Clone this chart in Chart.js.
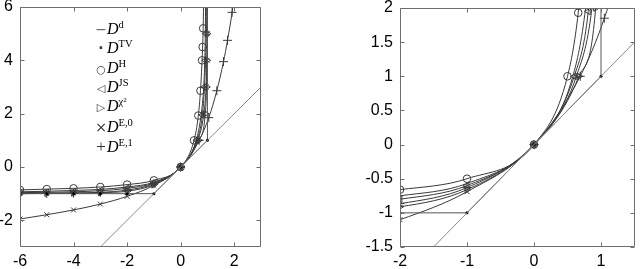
<!DOCTYPE html>
<html>
<head>
<meta charset="utf-8">
<script src="https://cdn.jsdelivr.net/npm/chart.js@4.4.1/dist/chart.umd.min.js"></script>
<style>
body { margin: 0; background: #fff; }
#wrap { position: relative; width: 640px; height: 269px; overflow: hidden; }
#wrap canvas { position: absolute; top: 0; }
#leftChart { left: 0; }
#rightChart { left: 320px; }
#legend { position: absolute; left: 95px; top: 20px; font-family: 'Liberation Serif', serif; font-size: 16px; line-height: 17.3px; color: #000; }
#legend .sym { display: inline-block; width: 12px; text-align: center; font-family: 'DejaVu Sans', sans-serif; color: #333; font-size: 11px; }
#legend div:nth-child(1) .sym { font-size: 14px; color: #666; }
#legend div:nth-child(2) .sym { font-size: 14px; font-weight: bold; }
#legend div:nth-child(6) .sym { font-size: 14px; }
#legend div:nth-child(7) .sym { font-size: 17px; font-family: 'Liberation Serif', serif; }
#legend i { font-style: italic; }
#legend .sup { position: relative; top: -6px; font-size: 10.5px; font-style: normal; }
#legend .sup .sup2 { position: relative; top: -3px; font-size: 7px; }
</style>
</head>
<body>
<div id="wrap">
  <canvas id="leftChart" width="320" height="269"></canvas>
  <canvas id="rightChart" width="320" height="269"></canvas>
  <div id="legend"></div>
</div>
<script>
// tick labels
var LEFT_X_TICKS = [-6, -4, -2, 0, 2];
var LEFT_Y_TICKS = [-2, 0, 2, 4, 6];
var RIGHT_X_TICKS = [-2, -1, 0, 1];
var RIGHT_Y_TICKS = [-1.5, -1, -0.5, 0, 0.5, 1, 1.5, 2];

// series
var d_x   = [-6, -5, -4, -3, -2, -1, 0, 0.58, 0.77, 0.86, 0.9, 0.92, 0.95];
var d_y   = [-0.93, -0.91, -0.88, -0.84, -0.75, -0.57, 0, 1, 2, 3, 4, 5, 8];
var tv_x  = [-6, -5, -4, -3, -2, -1, 0, 1, 1];
var tv_y  = [-1, -1, -1, -1, -1, -1, 0, 1, 10];
var h_x   = [-6, -5, -4, -3, -2, -1, 0, 0.5, 0.66, 0.74, 0.8, 0.82, 0.84, 0.89];
var h_y   = [-0.86, -0.83, -0.8, -0.75, -0.66, -0.5, 0, 1, 1.93, 2.86, 4, 4.5, 5.2, 8];
var js_x  = [-6, -5, -4, -3, -2, -1, 0, 0.6, 0.81, 0.89, 0.93, 0.95, 0.97];
var js_y  = [-0.96, -0.95, -0.93, -0.89, -0.8, -0.6, 0, 1, 1.95, 3, 4, 5, 8];
var chi_x = [-6, -5, -4, -3, -2, -1, 0, 0.67, 0.92, 0.965, 0.98, 0.99, 0.998];
var chi_y = [-0.99, -0.985, -0.975, -0.96, -0.91, -0.66, 0, 1, 2, 3, 4, 5, 8];
var e0_x  = [-6, -5, -4, -3, -2, -1, 0, 0.632, 0.865, 0.95, 0.982, 0.993, 0.9997];
var e0_y  = [-1.95, -1.79, -1.61, -1.39, -1.1, -0.69, 0, 1, 2, 3, 4, 5, 8];
var e1_x  = [-6, -5, -4, -3, -2, -1, 0, 0.69, 1.05, 1.35, 1.6, 1.75, 1.92, 2.2];
var e1_y  = [-1, -0.99, -0.98, -0.95, -0.865, -0.63, 0, 1, 1.85, 2.86, 3.95, 4.75, 5.8, 8];
var diag_x = [-6, 6];
var diag_y = [-6, 6];

var LEGEND_SYMS = ['\u2212', '\u00b7', '\u25cb', '\u25c1', '\u25b7', '\u00d7', '+'];
var LEGEND_SUPS = ['d', 'TV', 'H', 'JS', '\u03c7<span class="sup2">2</span>', 'E,0', 'E,1'];

function pts(xs, ys) {
    return xs.map(function(x, i) { return {x: x, y: ys[i]}; });
}

function curve(label, xs, ys, style, radius, rot, fill) {
    return {
        label: label,
        data: pts(xs, ys),
        showLine: true,
        borderColor: '#3a3a3a',
        borderWidth: 1,
        cubicInterpolationMode: 'monotone',
        pointStyle: style,
        pointRadius: radius,
        pointRotation: rot || 0,
        pointBorderColor: '#3a3a3a',
        pointBorderWidth: 1,
        pointBackgroundColor: fill || 'rgba(0,0,0,0)'
    };
}

function make_datasets() {
    return [
        {label: 'diag', data: pts(diag_x, diag_y), showLine: true, borderColor: '#8a8a8a',
         borderWidth: 1, pointRadius: 0, tension: 0},
        curve('D^d', d_x, d_y, 'circle', 0),
        {label: 'D^TV', data: pts(tv_x, tv_y), showLine: true, borderColor: '#555',
         borderWidth: 1, tension: 0, pointStyle: 'circle', pointRadius: 1.5,
         pointBorderWidth: 0, pointBackgroundColor: '#000'},
        curve('D^H', h_x, h_y, 'circle', 3.8),
        curve('D^JS', js_x, js_y, 'triangle', 3.8, -90),
        curve('D^chi2', chi_x, chi_y, 'triangle', 3.8, 90),
        curve('D^E,0', e0_x, e0_y, 'crossRot', 3.5),
        curve('D^E,1', e1_x, e1_y, 'cross', 4.5)
    ];
}

var framePlugin = {
    id: 'frame',
    afterDatasetsDraw: function(chart) {
        var ctx = chart.ctx, a = chart.chartArea;
        var xs = chart.scales.x, ys = chart.scales.y;
        var L = Math.round(a.left) + 0.5, R = Math.round(a.right) - 0.5;
        var T = Math.round(a.top) + 0.5, B = Math.round(a.bottom) - 0.5;
        ctx.save();
        ctx.strokeStyle = '#6e6e6e';
        ctx.lineWidth = 1;
        ctx.beginPath();
        ctx.moveTo(L, T); ctx.lineTo(R, T); ctx.lineTo(R, B); ctx.lineTo(L, B); ctx.closePath();
        xs.ticks.forEach(function(t) {
            var p = Math.round(xs.getPixelForValue(t.value)) + 0.5;
            ctx.moveTo(p, B); ctx.lineTo(p, B - 4);
            ctx.moveTo(p, T); ctx.lineTo(p, T + 4);
        });
        ys.ticks.forEach(function(t) {
            var p = Math.round(ys.getPixelForValue(t.value)) + 0.5;
            ctx.moveTo(L, p); ctx.lineTo(L + 4, p);
            ctx.moveTo(R, p); ctx.lineTo(R - 4, p);
        });
        ctx.stroke();
        ctx.restore();
    }
};

function make_chart(id, xr, yr, xticks, yticks, yw, pad) {
    var ctx = document.getElementById(id).getContext('2d');
    var font = {family: "'Liberation Sans', Arial, sans-serif", size: 16};
    return new Chart(ctx, {
        type: 'scatter',
        data: {datasets: make_datasets()},
        options: {
            responsive: false,
            animation: false,
            devicePixelRatio: 1,
            layout: {padding: pad},
            plugins: {legend: {display: false}, tooltip: {enabled: false}},
            scales: {
                x: {
                    type: 'linear', min: xr[0], max: xr[1],
                    grid: {display: false, drawTicks: false},
                    border: {display: false},
                    ticks: {font: font, color: '#000', padding: 5, maxRotation: 0,
                            callback: function(v) { return String(v); }},
                    afterBuildTicks: function(s) { s.ticks = xticks.map(function(v) { return {value: v}; }); },
                    afterFit: function(s) { s.height = 22; s.paddingLeft = 0; s.paddingRight = 0; }
                },
                y: {
                    type: 'linear', min: yr[0], max: yr[1],
                    grid: {display: false, drawTicks: false},
                    border: {display: false},
                    ticks: {font: font, color: '#000', padding: 7,
                            callback: function(v) { return String(v); }},
                    afterBuildTicks: function(s) { s.ticks = yticks.map(function(v) { return {value: v}; }); },
                    afterFit: function(s) { s.width = yw; s.paddingTop = 0; s.paddingBottom = 0; }
                }
            }
        },
        plugins: [framePlugin]
    });
}

function build_legend() {
    var el = document.getElementById('legend');
    var html = '';
    for (var i = 0; i < LEGEND_SYMS.length; i++) {
        html += '<div><span class="sym">' + LEGEND_SYMS[i] + '</span><i>D</i><span class="sup">' +
                LEGEND_SUPS[i] + '</span></div>';
    }
    el.innerHTML = html;
}

make_chart('leftChart', [-6, 3], [-3, 6], LEFT_X_TICKS, LEFT_Y_TICKS, 20,
           {left: 0, right: 59, top: 7, bottom: 0});
make_chart('rightChart', [-2, 1.5], [-1.5, 2], RIGHT_X_TICKS, RIGHT_Y_TICKS, 80,
           {left: 0, right: 1, top: 8, bottom: 0});
build_legend();
</script>
</body>
</html>
